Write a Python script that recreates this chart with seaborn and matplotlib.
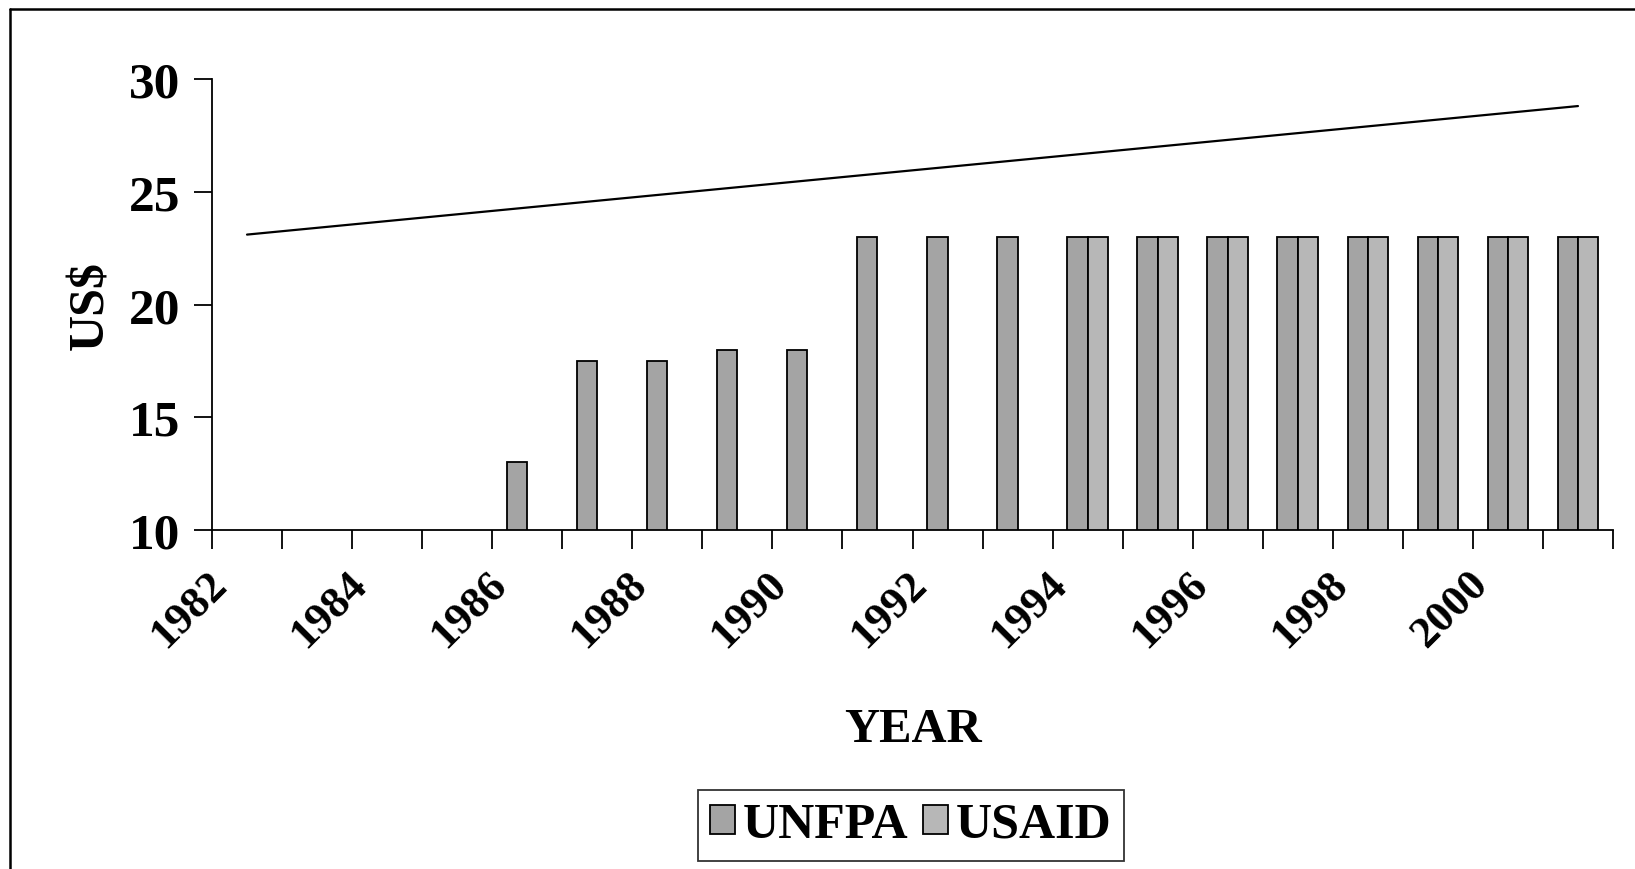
import numpy as np
import pandas as pd
import matplotlib.pyplot as plt
import seaborn as sns
from matplotlib.lines import Line2D

# Dados
years = [str(y) for y in range(1982, 2002)]
unfpa_years = [str(y) for y in range(1986, 2002)]
unfpa_values = [13, 17.5, 17.5, 18, 18, 23, 23, 23, 23, 23, 23, 23, 23, 23, 23, 23]
usaid_years = [str(y) for y in range(1994, 2002)]
usaid_values = [23, 23, 23, 23, 23, 23, 23, 23]
trend_years = ['1982', '2001']
trend_values = [23.1, 28.8]
year_labels = [str(y) for y in range(1982, 2001, 2)]

df = pd.DataFrame({
    'year': unfpa_years + usaid_years,
    'value': unfpa_values + usaid_values,
    'agency': ['UNFPA'] * len(unfpa_years) + ['USAID'] * len(usaid_years),
})

sns.set_style('white')
plt.rcParams['font.family'] = ['Liberation Serif', 'DejaVu Serif']
plt.rcParams['font.weight'] = 'bold'
plt.rcParams['text.color'] = 'black'
plt.rcParams['axes.labelcolor'] = 'black'
plt.rcParams['xtick.color'] = 'black'
plt.rcParams['ytick.color'] = 'black'

fig = plt.figure(figsize=(16.35, 8.7), dpi=100)
ax = fig.add_axes([212 / 1635, 1 - 531 / 870, (1613 - 212) / 1635, (531 - 80) / 870])

sns.barplot(data=df, x='year', y='value', hue='agency', order=years,
            hue_order=['UNFPA', 'USAID'], palette=['#a4a4a4', '#b7b7b7'],
            width=0.58, edgecolor='black', linewidth=1.3, ax=ax)

# linha de tendência
tx = [years.index(y) for y in trend_years]
ax.plot(tx, trend_values, color='black', lw=1.6)

ax.set_ylim(10, 30)
ax.set_xlim(-0.5, len(years) - 0.5)
ax.set_yticks([10, 15, 20, 25, 30])
ax.set_yticklabels(['10', '15', '20', '25', '30'], fontsize=37, fontweight='bold')

# marcas nas divisões das categorias, rótulos a cada dois anos
ax.set_xticks(np.arange(-0.5, len(years), 1.0))
ax.set_xticklabels([])
ax.set_xticks([years.index(y) - 0.18 for y in year_labels], minor=True)
ax.set_xticklabels(year_labels, minor=True, rotation=45, ha='right', va='top',
                   fontsize=32, fontweight='bold')
ax.tick_params(axis='x', which='major', direction='out', length=14, width=1.3, bottom=True)
ax.tick_params(axis='x', which='minor', length=0, pad=24)
ax.tick_params(axis='y', direction='out', length=13, width=1.3, left=True, pad=10)

for s in ['top', 'right']:
    ax.spines[s].set_visible(False)
for s in ['left', 'bottom']:
    ax.spines[s].set_color('black')
    ax.spines[s].set_linewidth(1.3)

ax.set_xlabel('YEAR', fontsize=35, fontweight='bold')
ax.xaxis.label.set_va('center')
ax.xaxis.set_label_coords(0.5, (531 - 730) / 451)
ax.set_ylabel('US$', fontsize=36, fontweight='bold')
ax.yaxis.label.set_va('center')
ax.yaxis.set_label_coords((91 - 212) / 1401, 0.5)

handles, labels = ax.get_legend_handles_labels()
ax.get_legend().remove()
leg = fig.legend(handles, labels, loc='center', bbox_to_anchor=(911 / 1635, 1 - 826 / 870),
                 ncol=2, frameon=True, fancybox=False, edgecolor='black',
                 handlelength=0.5, handleheight=0.5, handletextpad=0.15, columnspacing=0.3,
                 borderpad=0.25, borderaxespad=0.2, prop={'size': 36, 'weight': 'bold'})
leg.get_frame().set_linewidth(1.3)

# moldura externa (apenas topo e esquerda visíveis)
fig.add_artist(Line2D([10 / 1635, 1], [1 - 10 / 870, 1 - 10 / 870], transform=fig.transFigure,
                      color='black', lw=1.8))
fig.add_artist(Line2D([10 / 1635, 10 / 1635], [0, 1 - 10 / 870], transform=fig.transFigure,
                      color='black', lw=1.8))

fig.savefig('out.png', dpi=100)
